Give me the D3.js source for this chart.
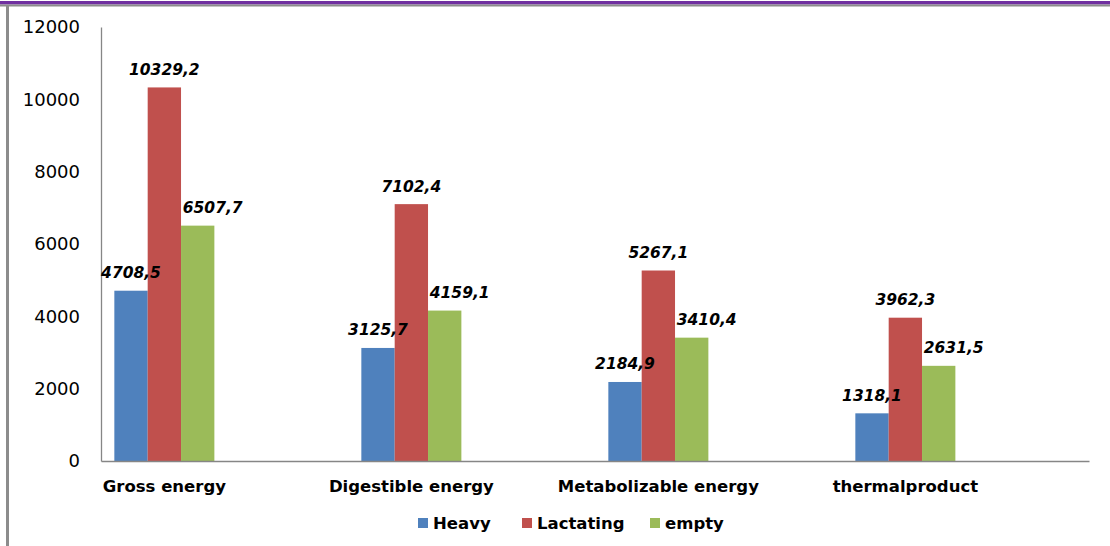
<!DOCTYPE html>
<html>
<head>
<meta charset="utf-8">
<script src="https://cdn.jsdelivr.net/npm/d3@7"></script>
<style>
  html, body { margin: 0; padding: 0; background: #fff; }
  svg { display: block; }
</style>
</head>
<body>
<svg id="chart" width="1110" height="546"></svg>
<script>
const categories = ["Gross energy", "Digestible energy", "Metabolizable energy", "thermalproduct"];
const seriesNames = ["Heavy", "Lactating", "empty"];
const heavy = [4708.5, 3125.7, 2184.9, 1318.1];
const lactating = [10329.2, 7102.4, 5267.1, 3962.3];
const empty = [6507.7, 4159.1, 3410.4, 2631.5];
const yTicks = [0, 2000, 4000, 6000, 8000, 10000, 12000];
const colors = ["#4f81bd", "#c0504d", "#9bbb59"];

const seriesValues = [heavy, lactating, empty];
const W = 1110, H = 546;
const plot = { left: 101, right: 1089, top: 27, bottom: 461 };

const svg = d3.select("#chart");
svg.append("rect").attr("width", W).attr("height", H).attr("fill", "#fff");

// frame lines
svg.append("rect").attr("x", 0).attr("y", 1).attr("width", W).attr("height", 3.5).attr("fill", "#7030a0");
svg.append("rect").attr("x", 0).attr("y", 4.5).attr("width", W).attr("height", 2).attr("fill", "#8c8c8c");
svg.append("rect").attr("x", 6).attr("y", 5).attr("width", 3).attr("height", H - 5).attr("fill", "#8c8c8c");

const x0 = d3.scaleBand().domain(categories).range([plot.left, plot.right]).paddingInner(0).paddingOuter(0);
const bw = x0.bandwidth();
const x1 = d3.scaleBand().domain(seriesNames).range([bw * 0.054, bw * 0.459]).padding(0);
const y = d3.scaleLinear().domain([0, 12000]).range([plot.bottom, plot.top]);

// y axis
const yAxis = svg.append("g").attr("transform", `translate(${plot.left},0)`)
  .call(d3.axisLeft(y).tickValues(yTicks).tickSize(0).tickSizeOuter(0).tickPadding(21).tickFormat(d => String(d)));
yAxis.select(".domain").attr("stroke", "#868686").attr("stroke-width", 1.3);
yAxis.selectAll("text").attr("font-family", "DejaVu Sans").attr("font-size", 18).attr("fill", "#000");

// bars
const groups = svg.append("g").selectAll("g").data(categories).join("g")
  .attr("transform", c => `translate(${x0(c)},0)`);

groups.each(function(c, ci) {
  const g = d3.select(this);
  seriesNames.forEach((s, si) => {
    const v = seriesValues[si][ci];
    g.append("rect")
      .attr("x", x1(s))
      .attr("y", y(v))
      .attr("width", x1.bandwidth())
      .attr("height", y(0) - y(v))
      .attr("fill", colors[si]);
  });
});

// x axis
const groupCenter = bw * (0.054 + 0.459) / 2;
const xAxis = svg.append("g").attr("transform", `translate(0,${plot.bottom})`)
  .call(d3.axisBottom(x0).tickSize(0).tickSizeOuter(0).tickPadding(0));
xAxis.select(".domain").attr("stroke", "#868686").attr("stroke-width", 1.3);
xAxis.selectAll("text")
  .attr("x", groupCenter - bw / 2)
  .attr("y", 31)
  .attr("dy", 0)
  .attr("font-family", "DejaVu Sans").attr("font-weight", "bold").attr("font-size", 16.5).attr("fill", "#000");

// value labels
const labelShift = [0, 0, 15];
const fmt = v => d3.format(".1f")(v).replace(".", ",");
groups.each(function(c, ci) {
  const g = d3.select(this);
  seriesNames.forEach((s, si) => {
    const v = seriesValues[si][ci];
    g.append("text")
      .attr("x", x1(s) + x1.bandwidth() / 2 + labelShift[si])
      .attr("y", y(v) - 12.5)
      .attr("text-anchor", "middle")
      .attr("font-family", "DejaVu Sans").attr("font-weight", "bold").attr("font-style", "italic")
      .attr("font-size", 15.5).attr("fill", "#000")
      .text(fmt(v));
  });
});

// legend
const legendX = [418, 522, 650];
const legend = svg.append("g").selectAll("g").data(seriesNames).join("g")
  .attr("transform", (d, i) => `translate(${legendX[i]},523)`);
legend.append("rect").attr("x", 0).attr("y", -5).attr("width", 10).attr("height", 10).attr("fill", (d, i) => colors[i]);
legend.append("text").attr("x", 15).attr("y", 6)
  .attr("font-family", "DejaVu Sans").attr("font-weight", "bold").attr("font-size", 16.5).attr("fill", "#000")
  .text(d => d);
</script>
</body>
</html>
